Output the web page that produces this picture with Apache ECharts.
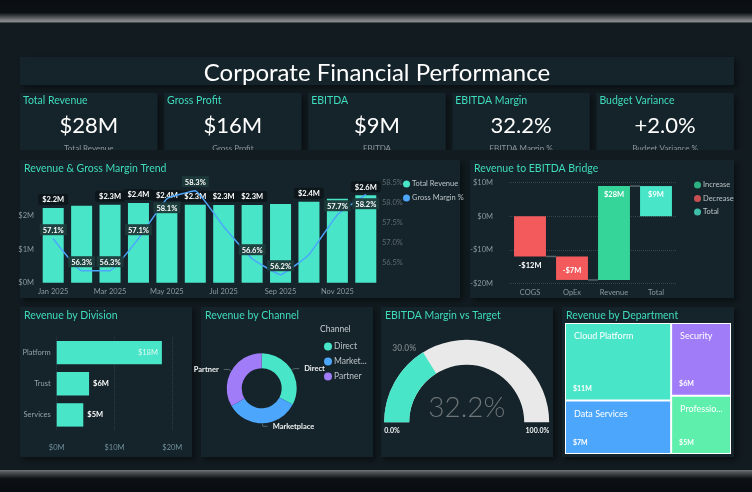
<!DOCTYPE html>
<html><head><meta charset="utf-8">
<script src="https://cdn.jsdelivr.net/npm/echarts@6/dist/echarts.min.js"></script>
<style>html,body{margin:0;padding:0;background:#111b20;overflow:hidden}#c{width:752px;height:492px}</style>
</head><body><div id="c"></div>
<script>
// ---------- data ----------
const kpiNames = ['Total Revenue', 'Gross Profit', 'EBITDA', 'EBITDA Margin', 'Budget Variance'];
const kpiCaptions = ['Total Revenue', 'Gross Profit', 'EBITDA', 'EBITDA Margin %', 'Budget Variance %'];
const kpiValues = [28, 16, 9, 32.2, 2.0];
const kpiKinds = ['money', 'money', 'money', 'pct', 'signedPct'];

const months = ['Jan 2025', 'Feb 2025', 'Mar 2025', 'Apr 2025', 'May 2025', 'Jun 2025',
  'Jul 2025', 'Aug 2025', 'Sep 2025', 'Oct 2025', 'Nov 2025', 'Dec 2025'];
const monthlyRevenue = [2.24, 2.31, 2.34, 2.39, 2.36, 2.34, 2.33, 2.33, 2.36, 2.43, 2.52, 2.62];
const grossMargin = [57.1, 56.3, 56.3, 57.1, 58.1, 58.3, 57.4, 56.6, 56.2, 56.7, 57.7, 58.2];

const bridgeSteps = ['COGS', 'OpEx', 'Revenue', 'Total'];
const bridgeValues = [-12, -7, 28, 9];
const bridgeKinds = ['Decrease', 'Decrease', 'Increase', 'Total'];

const divisions = ['Platform', 'Trust', 'Services'];
const divisionRevenue = [18.2, 5.6, 4.6];

const channels = ['Direct', 'Marketplace', 'Partner'];
const channelRevenue = [9.16, 9.5, 9.38];

const ebitdaMargin = 32.2;
const marginTarget = 30.0;

const departments = ['Cloud Platform', 'Data Services', 'Security', 'Professional Services'];
const departmentRevenue = [10.6, 7.3, 5.6, 4.5];

// ---------- styling ----------
const FONT = 'Lato, "Open Sans", "DejaVu Sans", sans-serif';
const C = {
  body: '#111b20', panel: '#15232a', teal: '#48e5c8', tealText: '#3fdcbc', blue: '#4ca6fb',
  purple: '#a07cf8', green: '#5eefac', red: '#f25a5c', inc: '#35d498', axis: '#8a99a0',
  axisDim: '#5e6d72', white: '#f1f5f6', legend: '#b9c4c7'
};
const bridgeColors = { Increase: C.inc, Decrease: C.red, Total: C.teal };
const deptColors = [C.teal, C.blue, C.purple, C.green];
const channelColors = [C.teal, C.blue, C.purple];

// label styling choices (collision avoidance as in the original)
const hiddenRevenueLabels = [1, 8, 10];
const hiddenMarginLabels = [6, 9];
const marginLabelsBelow = [4, 11];

function money(v) { return (v < 0 ? '-$' : '$') + Math.abs(v) + 'M'; }
function kpiText(v, k) {
  if (k === 'money') return '$' + v + 'M';
  if (k === 'pct') return v.toFixed(1) + '%';
  return (v >= 0 ? '+' : '') + v.toFixed(1) + '%';
}

// ---------- layout ----------
const cards = kpiNames.map((n, i) => [20 + i * 144.1, 93, 137.5, 57]);
const panels = [
  [20, 57, 714, 28], ...cards,
  [20, 160, 440, 138], [470, 160, 264, 138],
  [20, 307, 172, 150], [201, 307, 172, 150], [381, 307, 172, 150], [562, 307, 172, 150]
];
const chartTitles = [
  ['Revenue & Gross Margin Trend', 20, 160], ['Revenue to EBITDA Bridge', 470, 160],
  ['Revenue by Division', 20, 307], ['Revenue by Channel', 201, 307],
  ['EBITDA Margin vs Target', 381, 307], ['Revenue by Department', 562, 307]
];

const graphic = [];
graphic.push({ type: 'rect', z: -20, shape: { x: 0, y: 0, width: 752, height: 23 },
  style: { fill: { type: 'linear', x: 0, y: 0, x2: 0, y2: 1, colorStops: [
    { offset: 0, color: '#0a0e12' }, { offset: 0.55, color: '#0c1115' },
    { offset: 0.93, color: '#8c8f92' }, { offset: 1, color: '#2a3034' }] } } });
graphic.push({ type: 'rect', z: -20, shape: { x: 0, y: 470, width: 752, height: 22 },
  style: { fill: { type: 'linear', x: 0, y: 0, x2: 0, y2: 1, colorStops: [
    { offset: 0, color: '#75787b' }, { offset: 0.1, color: '#505457' },
    { offset: 0.4, color: '#0c1014' }, { offset: 1, color: '#090c10' }] } } });
panels.forEach(p => graphic.push({ type: 'rect', z: -10,
  shape: { x: p[0], y: p[1], width: p[2], height: p[3] },
  style: { fill: C.panel, shadowBlur: 6, shadowOffsetX: 3, shadowOffsetY: 3, shadowColor: 'rgba(0,0,0,0.45)' } }));
graphic.push({ type: 'text', z: 5, style: { text: 'Corporate Financial Performance', x: 377, y: 73,
  fill: '#ffffff', fontSize: 24, fontFamily: FONT, align: 'center', verticalAlign: 'middle' } });
cards.forEach((c, i) => {
  graphic.push({ type: 'text', z: 5, style: { text: kpiNames[i], x: c[0] + 3, y: 100.5,
    fill: C.tealText, fontSize: 10.5, fontFamily: FONT, verticalAlign: 'middle' } });
  graphic.push({ type: 'text', z: 5, style: { text: kpiText(kpiValues[i], kpiKinds[i]), x: c[0] + c[2] / 2, y: 125.5,
    fill: '#ffffff', fontSize: 22, fontFamily: FONT, align: 'center', verticalAlign: 'middle' } });
  graphic.push({ type: 'text', z: 5, style: { text: kpiCaptions[i], x: c[0] + c[2] / 2, y: 148,
    fill: '#8d989c', fontSize: 8, fontFamily: FONT, align: 'center', verticalAlign: 'middle' } });
});
graphic.push({ type: 'rect', z: 6, shape: { x: 0, y: 150, width: 752, height: 10 }, style: { fill: C.body } });
chartTitles.forEach(t => graphic.push({ type: 'text', z: 5, style: { text: t[0], x: t[1] + 4, y: t[2] + 8.5,
  fill: C.tealText, fontSize: 10.5, fontFamily: FONT, verticalAlign: 'middle' } }));
graphic.push({ type: 'text', z: 5, style: { text: 'Channel', x: 320, y: 329, fill: '#c3ccd0',
  fontSize: 8.5, fontFamily: FONT, verticalAlign: 'middle' } });

// ---------- derived ----------
let run = 0;
const bridgeBase = [], bridgeBar = [], connectors = [];
bridgeValues.forEach((v, i) => {
  if (bridgeKinds[i] === 'Total') { bridgeBase.push(0); bridgeBar.push(v); }
  else { bridgeBase.push(run); bridgeBar.push(v); run += v; }
  if (i < bridgeValues.length - 1) connectors.push([i, bridgeKinds[i] === 'Total' ? v : run]);
});
const bridgeLabelPos = ['bottom', 'insideBottom', 'insideTop', 'insideTop'];

const smallLbl = { fontSize: 7.5, fontFamily: FONT };
const transparent = 'rgba(0,0,0,0)';
const option = {
  backgroundColor: C.body,
  animation: false,
  textStyle: { fontFamily: FONT },
  graphic: graphic,
  grid: [
    { left: 39, top: 182.7, width: 341, height: 100 },
    { left: 509, top: 182.7, width: 168, height: 100.6 },
    { left: 56.7, top: 337, width: 115.6, height: 93.5 }
  ],
  xAxis: [
    { type: 'category', gridIndex: 0, data: months, axisLine: { show: false }, axisTick: { show: false },
      axisLabel: Object.assign({ interval: 1, color: C.axis, margin: 5 }, smallLbl) },
    { type: 'category', gridIndex: 1, data: bridgeSteps, axisLine: { show: false }, axisTick: { show: false },
      axisLabel: Object.assign({ color: C.axis, margin: 5 }, smallLbl) },
    { type: 'value', gridIndex: 2, min: 0, max: 20, interval: 10, axisLine: { show: false }, axisTick: { show: false },
      splitLine: { show: true, lineStyle: { type: 'dotted', color: '#2b3b41' } },
      axisLabel: Object.assign({ color: '#6f909c', margin: 13, formatter: v => '$' + v + 'M' }, smallLbl) }
  ],
  yAxis: [
    { type: 'value', gridIndex: 0, min: 0, max: 3, interval: 1, splitLine: { show: false },
      axisLabel: Object.assign({ color: C.axis, margin: 5, showMaxLabel: false, formatter: v => '$' + v + 'M' }, smallLbl) },
    { type: 'value', gridIndex: 0, position: 'right', min: 56, max: 58.5, interval: 0.5, splitLine: { show: false },
      axisLabel: Object.assign({ color: C.axisDim, margin: 2, showMinLabel: false, formatter: v => v.toFixed(1) + '%' }, smallLbl) },
    { type: 'value', gridIndex: 1, min: -20, max: 10, interval: 10,
      splitLine: { show: true, lineStyle: { type: 'dotted', color: '#34454b' } },
      axisLabel: Object.assign({ color: C.axis, margin: 16, formatter: money }, smallLbl) },
    { type: 'category', gridIndex: 2, data: divisions, inverse: true, axisLine: { show: false }, axisTick: { show: false },
      axisLabel: Object.assign({ color: '#93a3a9', margin: 6 }, smallLbl) }
  ],
  legend: [
    { data: ['Total Revenue', 'Gross Margin %'], orient: 'vertical', left: 398, top: 175, icon: 'circle',
      itemWidth: 7, itemHeight: 7, itemGap: 6, textStyle: { color: C.legend, fontSize: 7.5, fontFamily: FONT, padding: [0, 0, 0, -3] } },
    { data: ['Increase', 'Decrease', 'Total'], orient: 'vertical', left: 689, top: 176, icon: 'circle',
      itemWidth: 7, itemHeight: 7, itemGap: 5.5, textStyle: { color: C.legend, fontSize: 7.5, fontFamily: FONT, padding: [0, 0, 0, -3] } },
    { data: channels, orient: 'vertical', left: 319, top: 337, icon: 'circle',
      itemWidth: 8, itemHeight: 8, itemGap: 6, textStyle: { color: C.legend, fontSize: 8.5, fontFamily: FONT,
        width: 36, overflow: 'truncate', ellipsis: '...', padding: [0, 0, 0, -3] } }
  ],
  series: [
    { name: 'Total Revenue', type: 'bar', xAxisIndex: 0, yAxisIndex: 0, barCategoryGap: '26%',
      itemStyle: { color: C.teal },
      data: monthlyRevenue.map((v, i) => ({ value: v, label: { show: hiddenRevenueLabels.indexOf(i) < 0 } })),
      label: { position: 'top', distance: 3, color: '#ffffff', fontSize: 7.5, fontWeight: 'bold', fontFamily: FONT,
        backgroundColor: '#0d171b', padding: [2, 4, 1, 4], borderRadius: 2, formatter: p => '$' + p.value.toFixed(1) + 'M' } },
    { name: 'Gross Margin %', type: 'line', xAxisIndex: 0, yAxisIndex: 1, symbol: 'circle', symbolSize: 1,
      showSymbol: true, smooth: 0.1,
      lineStyle: { color: C.blue, width: 1.5 }, itemStyle: { color: C.blue }, z: 4,
      data: grossMargin.map((v, i) => ({ value: v, label: {
        show: hiddenMarginLabels.indexOf(i) < 0, position: marginLabelsBelow.indexOf(i) >= 0 ? 'bottom' : 'top' } })),
      label: { show: true, distance: 3, color: '#ffffff', fontSize: 7.5, fontWeight: 'bold', fontFamily: FONT,
        backgroundColor: 'rgba(28,58,58,0.95)', padding: [2, 3, 1, 3], formatter: p => p.value.toFixed(1) + '%' } },
    // bridge
    { name: 'base', type: 'bar', xAxisIndex: 1, yAxisIndex: 2, stack: 'w', stackStrategy: 'all', barCategoryGap: '24%',
      itemStyle: { color: transparent }, data: bridgeBase, silent: true },
    { name: 'Bridge', type: 'bar', xAxisIndex: 1, yAxisIndex: 2, stack: 'w', stackStrategy: 'all', barCategoryGap: '24%',
      data: bridgeBar.map((v, i) => ({ value: v, itemStyle: { color: bridgeColors[bridgeKinds[i]] },
        label: { position: bridgeLabelPos[i] } })),
      label: { show: true, distance: 5, color: '#ffffff', fontSize: 7.5, fontWeight: 'bold', fontFamily: FONT,
        formatter: p => money(p.value) } },
    { name: 'Increase', type: 'scatter', xAxisIndex: 1, yAxisIndex: 2, data: [], itemStyle: { color: C.inc } },
    { name: 'Decrease', type: 'scatter', xAxisIndex: 1, yAxisIndex: 2, data: [], itemStyle: { color: C.red } },
    { name: 'Total', type: 'scatter', xAxisIndex: 1, yAxisIndex: 2, data: [], itemStyle: { color: C.teal } },
    { name: 'connectors', type: 'custom', xAxisIndex: 1, yAxisIndex: 2, data: connectors, z: 3,
      renderItem: (params, api) => {
        const i = api.value(0), lvl = api.value(1);
        const w = api.size([1, 0])[0] * 0.76;
        const a = api.coord([i, lvl]), b = api.coord([i + 1, lvl]);
        return { type: 'line', shape: { x1: a[0] + w / 2, y1: a[1], x2: b[0] - w / 2, y2: b[1] },
          style: { stroke: '#56646a', lineWidth: 1.5 } };
      } },
    // division
    { name: 'Division', type: 'bar', xAxisIndex: 2, yAxisIndex: 3, barCategoryGap: '25%',
      itemStyle: { color: C.teal },
      data: divisionRevenue.map(v => ({ value: v, label: v > 10 ?
        { position: 'insideRight', color: '#dff8f2', fontWeight: 'normal' } : { position: 'right' } })),
      label: { show: true, distance: 4, color: '#ffffff', fontSize: 7.5, fontWeight: 'bold', fontFamily: FONT,
        formatter: p => '$' + Math.round(p.value) + 'M' } },
    // channel donut
    { name: 'Channel', type: 'pie', center: [261.7, 388.3], radius: [20, 35], startAngle: 90, clockwise: true,
      data: channels.map((n, i) => ({ name: n, value: channelRevenue[i], itemStyle: { color: channelColors[i] } })),
      label: { color: '#eef2f3', fontSize: 7.5, fontWeight: 'bold', fontFamily: FONT },
      labelLine: { length: 3, length2: 5, lineStyle: { color: '#55636a' } } },
    // gauge
    { name: 'Margin', type: 'gauge', center: [466.7, 422.3], radius: 82.5, startAngle: 180, endAngle: 0,
      min: 0, max: 100, splitNumber: 1,
      axisLine: { lineStyle: { width: 25, color: [[1, '#e9e9e9']] } },
      progress: { show: true, width: 25, itemStyle: { color: C.teal } },
      pointer: { show: false }, anchor: { show: false }, axisTick: { show: false },
      splitLine: { show: false, length: 0, distance: 0 },
      axisLabel: { distance: 0, color: '#eef2f3', fontSize: 7, fontWeight: 'bold', fontFamily: FONT,
        lineHeight: 16, formatter: v => '\n' + v.toFixed(1) + '%' },
      title: { show: false },
      detail: { offsetCenter: [0, -14], fontSize: 28, fontWeight: 300, color: '#6b7476', fontFamily: FONT,
        formatter: v => v.toFixed(1) + '%' },
      data: [{ value: ebitdaMargin }] },
    { name: 'Target', type: 'gauge', center: [466.7, 422.3], radius: 82.5, startAngle: 180, endAngle: 0,
      min: 0, max: 100,
      axisLine: { lineStyle: { width: 25, color: [[marginTarget / 100 - 0.002, transparent],
        [marginTarget / 100 + 0.002, C.blue], [1, transparent]] } },
      progress: { show: false }, pointer: { show: false }, anchor: { show: false }, axisTick: { show: false },
      splitLine: { show: false }, axisLabel: { show: false }, title: { show: false },
      detail: { offsetCenter: (function () { const a = Math.PI * (1 - marginTarget / 100);
          return [91 * Math.cos(a) - 9, -91 * Math.sin(a)]; })(),
        fontSize: 8.5, color: '#717b7e', fontFamily: FONT, formatter: v => v.toFixed(1) + '%' },
      data: [{ value: marginTarget }] },
    // treemap underlay: transparent cells carrying the value labels (drawn first)
    { name: 'DeptValues', type: 'treemap', left: 565, top: 323, width: 166, height: 131,
      roam: false, nodeClick: false, breadcrumb: { show: false }, silent: true,
      levels: [{ itemStyle: { borderWidth: 0, gapWidth: 0, borderColor: transparent, color: transparent } },
               { itemStyle: { borderWidth: 0, gapWidth: 0, borderColor: transparent, color: transparent } }],
      label: { show: true, position: 'insideBottomLeft', distance: 3, color: '#ffffff', fontSize: 7, fontWeight: 'bold',
        fontFamily: FONT, formatter: p => '$' + Math.round(p.value) + 'M' },
      data: departments.map((n, i) => ({ name: n, value: departmentRevenue[i] })) },
    // treemap: coloured cells with names (drawn on top)
    { name: 'DeptNames', type: 'treemap', left: 565, top: 323, width: 166, height: 131,
      roam: false, nodeClick: false, breadcrumb: { show: false },
      levels: [{ itemStyle: { borderWidth: 0, gapWidth: 0 } },
               { itemStyle: { borderWidth: 1, gapWidth: 0, borderColor: '#ffffff' } }],
      label: { show: true, position: 'insideTopLeft', distance: 3, color: '#ffffff', fontSize: 9, fontFamily: FONT,
        formatter: p => p.name },
      data: departments.map((n, i) => ({ name: n, value: departmentRevenue[i], itemStyle: { color: deptColors[i] } })) }
  ]
};
const chart = echarts.init(document.getElementById('c'), null, { renderer: 'canvas' });
chart.setOption(option);
</script>
</body></html>
